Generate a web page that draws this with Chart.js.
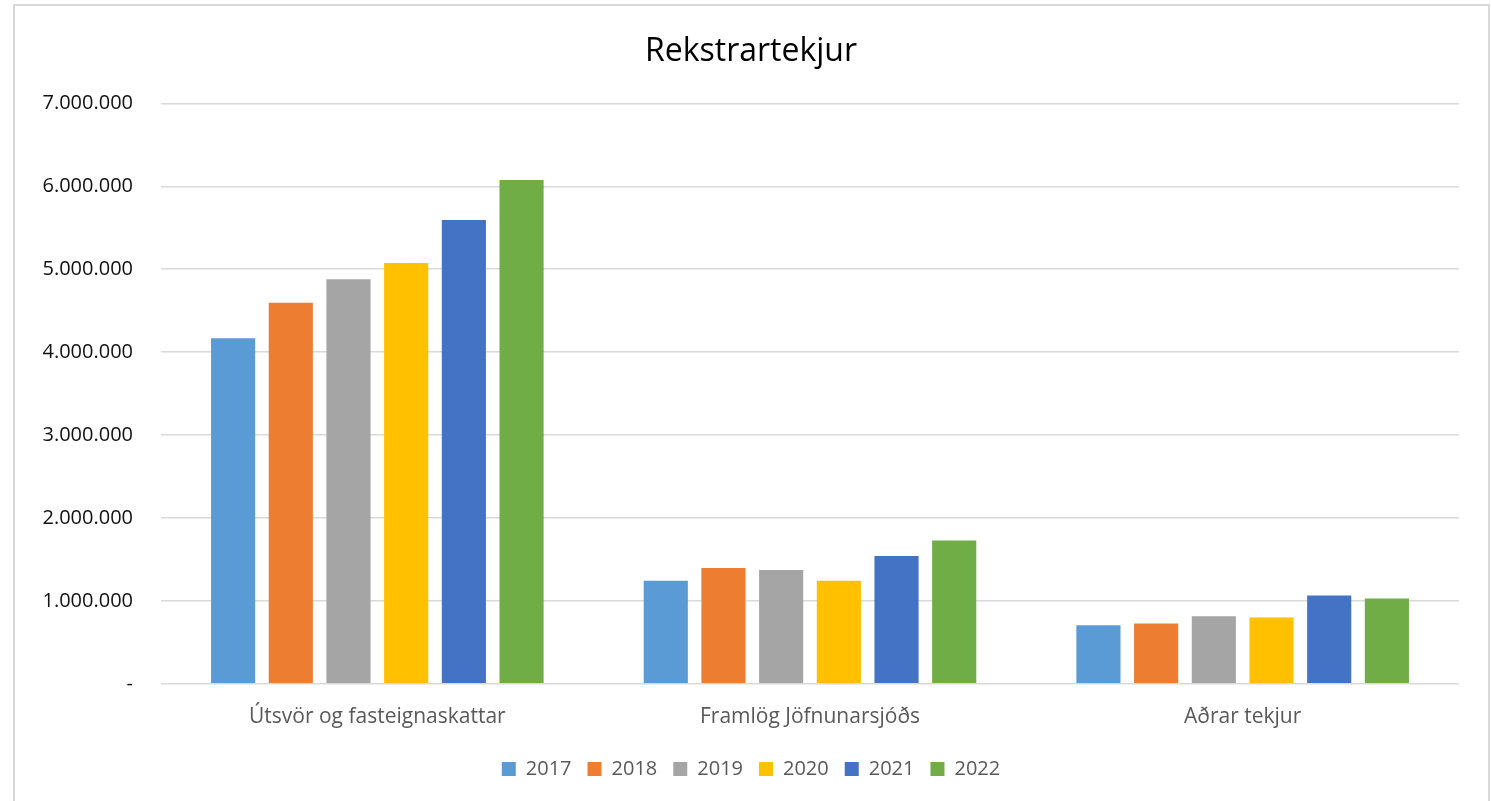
<!DOCTYPE html>
<html>
<head>
<meta charset="utf-8">
<title>Rekstrartekjur</title>
<script src="https://cdn.jsdelivr.net/npm/chart.js@4/dist/chart.umd.min.js"></script>
<style>
  html, body { margin: 0; padding: 0; background: #fff; overflow: hidden; }
  #frame {
    position: absolute; left: 13px; top: 4px;
    width: 1473px; height: 830px;
    border: 2px solid #d9d9d9;
  }
  #chart { position: absolute; left: 0; top: 0; }
</style>
</head>
<body>
<div id="frame"></div>
<canvas id="chart" width="1491" height="801"></canvas>
<script>
const categories = ["Útsvör og fasteignaskattar", "Framlög Jöfnunarsjóðs", "Aðrar tekjur"];
const years = ["2017", "2018", "2019", "2020", "2021", "2022"];

const values2017 = [4169000, 1243000, 707000];
const values2018 = [4597000, 1397000, 728000];
const values2019 = [4879000, 1372000, 816000];
const values2020 = [5076000, 1243000, 800000];
const values2021 = [5593000, 1542000, 1066000];
const values2022 = [6076000, 1727000, 1030000];

const seriesValues = [values2017, values2018, values2019, values2020, values2021, values2022];
const seriesColors = ["#5B9BD5", "#ED7D31", "#A5A5A5", "#FFC000", "#4472C4", "#70AD47"];

const textColor = "#595959";
const fontFamily = "'Open Sans', 'Liberation Sans', sans-serif";

function formatTick(value) {
  if (value === 0) return "-";
  return String(value).replace(/\B(?=(\d{3})+(?!\d))/g, ".");
}

const datasets = years.map((year, i) => ({
  label: year,
  data: seriesValues[i],
  backgroundColor: seriesColors[i],
  borderWidth: 0,
  categoryPercentage: 0.8,
  barPercentage: 0.765
}));

new Chart(document.getElementById("chart"), {
  type: "bar",
  data: {
    labels: categories,
    datasets
  },
  options: {
    responsive: false,
    animation: false,
    devicePixelRatio: 1,
    layout: {
      // left/right offsets keep the title and legend centred on the frame
      padding: { left: 43, right: 32, top: 0, bottom: 12 }
    },
    plugins: {
      title: {
        display: true,
        text: "Rekstrartekjur",
        color: "#000",
        font: { family: fontFamily, size: 32, weight: "normal" },
        padding: { top: 33, bottom: 32 }
      },
      legend: {
        position: "bottom",
        labels: {
          color: textColor,
          font: { family: fontFamily, size: 20 },
          boxWidth: 14,
          boxHeight: 14,
          padding: 16
        }
      },
      tooltip: { enabled: false }
    },
    scales: {
      x: {
        grid: { display: false },
        border: { display: false },
        ticks: {
          color: textColor,
          font: { family: fontFamily, size: 21 },
          padding: 13
        }
      },
      y: {
        min: 0,
        max: 7000000,
        afterFit: scale => { scale.width = 118; },
        grid: { color: "#d9d9d9", lineWidth: 1.5, drawTicks: false },
        border: { display: false },
        ticks: {
          stepSize: 1000000,
          color: "#111",
          font: { family: fontFamily, size: 20 },
          padding: 28,
          callback: value => formatTick(value)
        }
      }
    }
  }
});
</script>
</body>
</html>
